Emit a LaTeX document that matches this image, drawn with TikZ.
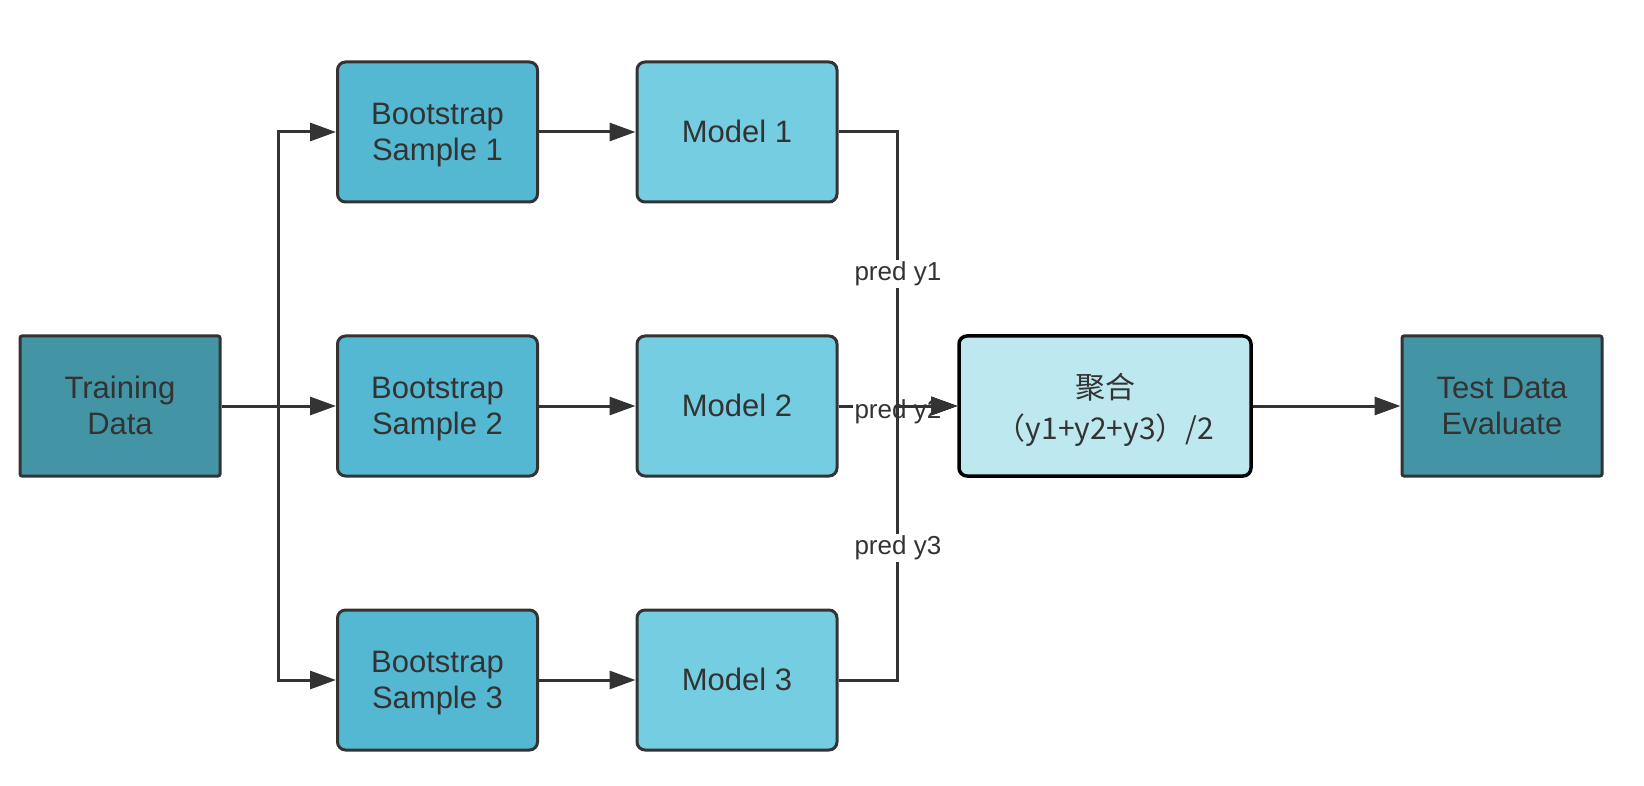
\documentclass[tikz,border=0pt]{standalone}
\usepackage{fontspec}
\setmainfont{Liberation Sans}
\newfontfamily\cjk{Noto Sans CJK SC}
\usetikzlibrary{arrows.meta,calc}
\definecolor{bord}{HTML}{333333}
\definecolor{txt}{HTML}{333333}
\definecolor{darkteal}{HTML}{4395A6}
\definecolor{bsfill}{HTML}{55B8D2}
\definecolor{mfill}{HTML}{74CDE0}
\definecolor{aggfill}{HTML}{BEE8EF}
\tikzset{
  box/.style={draw=bord, line width=3pt, minimum width=200pt, minimum height=140pt,
    text=txt, align=center, font=\fontsize{31}{36}\selectfont, inner sep=0pt},
  latstrut/.style={execute at begin node={\rule{0pt}{#1}},
    execute at end node={\rule[-7pt]{0pt}{7pt}}},
  sqbox/.style={box, latstrut=64pt, fill=darkteal, rounded corners=2pt},
  bsbox/.style={box, latstrut=64pt, fill=bsfill, rounded corners=8pt},
  mbox/.style={box, latstrut=28pt, fill=mfill, rounded corners=8pt},
  aggbox/.style={box, latstrut=74pt, draw=black, line width=3.5pt, fill=aggfill,
    rounded corners=8pt, minimum width=292pt, font=\cjk\fontsize{30}{41}\selectfont},
  arr/.style={draw=bord, line width=3pt, -{Triangle[length=26pt,width=18pt]}},
  lbl/.style={fill=white, text=txt, font=\fontsize{26}{30}\selectfont, inner sep=1.5pt}
}
\begin{document}
\begin{tikzpicture}[x=1pt,y=-1pt]
\useasboundingbox (0,0) rectangle (1644,786);
\node[sqbox] (train) at (120,406) {Training\\Data};
\node[bsbox] (bs1) at (437.5,132) {Bootstrap\\Sample 1};
\node[bsbox] (bs2) at (437.5,406) {Bootstrap\\Sample 2};
\node[bsbox] (bs3) at (437.5,680) {Bootstrap\\Sample 3};
\node[mbox] (m1) at (737,132) {Model 1};
\node[mbox] (m2) at (737,406) {Model 2};
\node[mbox] (m3) at (737,680) {Model 3};
\node[aggbox] (agg) at (1105,406) {聚合\\（y1+y2+y3）/2};
\node[sqbox] (test) at (1502,406) {Test Data\\Evaluate};

\coordinate (jl) at ($(train.east)!0.5!(bs2.west)$);
\coordinate (jr) at ($(m2.east)!0.5!(agg.west)$);

\draw[arr] (train.east) -- (bs2.west);
\draw[arr] (jl) |- (bs1.west);
\draw[arr] (jl) |- (bs3.west);

\draw[arr] (bs1.east) -- (m1.west);
\draw[arr] (bs2.east) -- (m2.west);
\draw[arr] (bs3.east) -- (m3.west);

\draw[arr] (m2.east) -- node[lbl, yshift=-6pt] {pred y2} (agg.west);
\draw[arr] ([xshift=-27pt]agg.west) -- (agg.west);
\draw[arr] (m1.east) -| node[lbl, pos=0.75, yshift=-5pt] {pred y1} (jr) -- (agg.west);
\draw[arr] (m3.east) -| node[lbl, pos=0.75, yshift=-5pt] {pred y3} (jr) -- (agg.west);

\draw[arr] (agg.east) -- (test.west);
\end{tikzpicture}
\end{document}
